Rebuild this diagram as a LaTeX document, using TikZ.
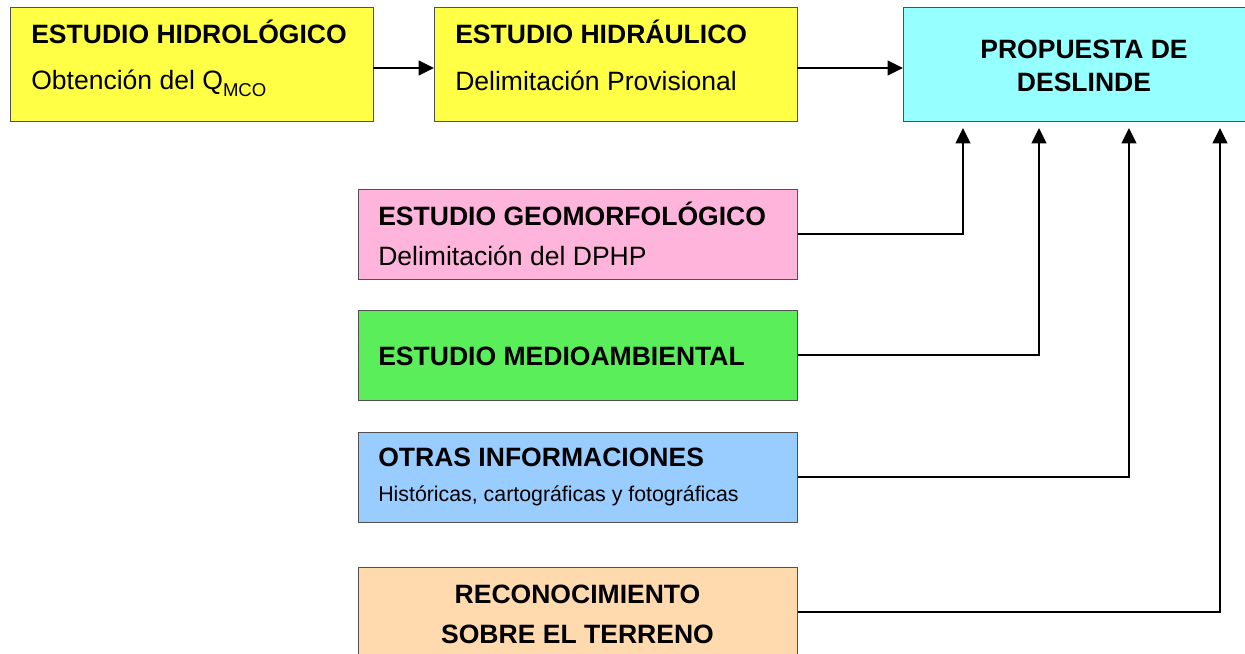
\documentclass[tikz,border=0pt]{standalone}
\usepackage{fontspec}
\setmainfont{Liberation Sans}
\usepackage{tikz}
\usetikzlibrary{arrows.meta}

\definecolor{amarillo}{RGB}{255,255,70}
\definecolor{celeste}{RGB}{150,255,255}
\definecolor{rosa}{RGB}{255,180,220}
\definecolor{verde}{RGB}{90,238,90}
\definecolor{azul}{RGB}{153,204,255}
\definecolor{naranja}{RGB}{255,218,175}

\tikzset{
  caja/.style={draw={rgb,255:red,80;green,80;blue,80}, line width=0.6pt, anchor=north west, inner sep=0pt},
  cajasup/.style={caja, minimum width=272.25pt, minimum height=85.5pt},
  cajainf/.style={caja, minimum width=329.25pt, minimum height=67.5pt},
  titulo/.style={anchor=base west, inner sep=0pt, font=\fontsize{19.9}{23}\selectfont\bfseries},
  texto/.style={anchor=base west, inner sep=0pt, font=\fontsize{19.9}{23}\selectfont},
  flecha/.style={line width=1.5pt, -{Triangle[length=11.5pt,width=11pt]}}
}

\begin{document}
\begin{tikzpicture}[x=0.75pt,y=0.75pt,yscale=-1,xscale=1]
\useasboundingbox (0,0) rectangle (1245,653);

% Cajas superiores
\node [cajasup, fill=amarillo] (hidro) at (10,7) {};
\node [cajasup, fill=amarillo] (hidra) at (434,7) {};
\node [cajasup, fill=celeste] (deslinde) at (903,7) {};

% Cajas inferiores
\node [cajainf, fill=rosa] (geomorf) at (358,189) {};
\node [cajainf, fill=verde] (medio) at (358,310) {};
\node [cajainf, fill=azul] (otras) at (358,432) {};
\node [cajainf, fill=naranja] (recon) at (358,567) {};

% Text Node
\node [titulo] (t1) at (31,43) {ESTUDIO HIDROLÓGICO};
\node [texto] (s1) at (31,89) {Obtención del Q\raisebox{-0.25ex}{\textsubscript{MCO}}};
% Text Node
\node [titulo] (t2) at (455,43) {ESTUDIO HIDRÁULICO};
\node [texto] (s2) at (455,90) {Delimitación Provisional};
% Text Node
\node [titulo, anchor=base] (t3) at (1084,58) {PROPUESTA DE};
\node [titulo, anchor=base] (t3b) at (1084,91) {DESLINDE};
% Text Node
\node [titulo] (t4) at (378,225) {ESTUDIO GEOMORFOLÓGICO};
\node [texto] (s4) at (378,265) {Delimitación del DPHP};
% Text Node
\node [titulo] (t5) at (378,365) {ESTUDIO MEDIOAMBIENTAL};
% Text Node
\node [titulo] (t6) at (378,466) {OTRAS INFORMACIONES};
\node [texto, font=\fontsize{16}{19}\selectfont] (s6) at (378,501) {Históricas, cartográficas y fotográficas};
% Text Node
\node [titulo, anchor=base] (t7) at (577.5,603) {RECONOCIMIENTO};
\node [titulo, anchor=base] (t7b) at (577.5,643) {SOBRE EL TERRENO};

% Llegadas a la propuesta
\coordinate (c0) at (373,68);
\coordinate (c1) at (797,68);
\coordinate (e1) at (963,128);
\coordinate (e2) at (1039,128);
\coordinate (e3) at (1129,128);
\coordinate (e4) at (1220,128);

% Conectores
\draw [flecha] (c0) -- (hidra.west |- c0);
\draw [flecha] (c1) -- (deslinde.west |- c1);
\draw [flecha] (geomorf.east) -| (e1);
\draw [flecha] (medio.east) -| (e2);
\draw [flecha] (otras.east) -| (e3);
\draw [flecha] (recon.east) -| (e4);

\end{tikzpicture}
\end{document}
